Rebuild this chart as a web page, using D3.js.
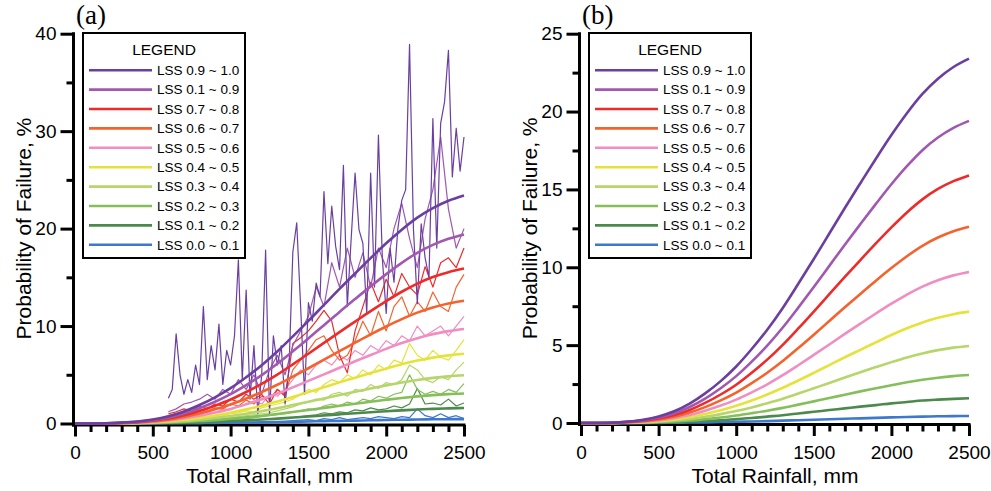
<!DOCTYPE html>
<html><head>
<meta charset="utf-8">
<title>Probability of Failure vs Total Rainfall</title>
<script src="https://d3js.org/d3.v7.min.js"></script>
<style>
body { margin: 0; background: #fff; }
svg { font-family: Arial, "Liberation Sans", sans-serif; }
.axis path, .axis line { stroke: #000; stroke-width: 3; }
.axis text { font-size: 19px; fill: #000; font-family: Arial, "Liberation Sans", sans-serif; }
.title { font-size: 21px; }
.panel { font-family: "Times New Roman", "Liberation Serif", serif; font-size: 27px; }
.legend-title { font-size: 15.5px; }
.legend-item { font-size: 13.5px; }
</style>
</head>
<body>
<svg id="chart" width="991" height="491"></svg>
<script>
// ---- data ----
const lssLabels = ["LSS 0.9 ~ 1.0", "LSS 0.1 ~ 0.9", "LSS 0.7 ~ 0.8", "LSS 0.6 ~ 0.7", "LSS 0.5 ~ 0.6",
                   "LSS 0.4 ~ 0.5", "LSS 0.3 ~ 0.4", "LSS 0.2 ~ 0.3", "LSS 0.1 ~ 0.2", "LSS 0.0 ~ 0.1"];
const lssColors = ["#6b3fa0", "#a058b0", "#ee2b2b", "#f4632d", "#f08dc1",
                   "#e5e33b", "#b6d56a", "#85bf5a", "#4c8a4c", "#3d78cf"];

const xMajor = [0, 500, 1000, 1500, 2000, 2500];
const xMinor = [100, 200, 300, 400, 600, 700, 800, 900, 1100, 1200, 1300, 1400,
                1600, 1700, 1800, 1900, 2100, 2200, 2300, 2400];

// fitted curves, every 100 mm
const rainSmooth = [0, 100, 200, 300, 400, 500, 600, 700, 800, 900, 1000, 1100, 1200,
                    1300, 1400, 1500, 1600, 1700, 1800, 1900, 2000, 2100, 2200, 2300, 2400, 2500];
const fit0910 = [0, 0, 0.02, 0.09, 0.21, 0.42, 0.75, 1.24, 1.90, 2.69, 3.63, 4.75, 5.99, 7.39, 8.94, 10.53, 12.17, 13.81, 15.40, 16.97, 18.49, 19.89, 21.13, 22.11, 22.86, 23.4];
const fit0109 = [0, 0, 0.02, 0.08, 0.17, 0.35, 0.62, 1.03, 1.57, 2.23, 3.01, 3.94, 4.97, 6.13, 7.41, 8.73, 10.09, 11.45, 12.77, 14.07, 15.33, 16.49, 17.52, 18.33, 18.95, 19.4];
const fit0708 = [0, 0, 0.02, 0.06, 0.14, 0.29, 0.51, 0.84, 1.29, 1.83, 2.46, 3.23, 4.07, 5.02, 6.07, 7.16, 8.27, 9.38, 10.46, 11.53, 12.56, 13.52, 14.36, 15.03, 15.53, 15.9];
const fit0607 = [0, 0, 0.01, 0.05, 0.11, 0.23, 0.40, 0.67, 1.02, 1.45, 1.95, 2.56, 3.23, 3.98, 4.81, 5.67, 6.55, 7.43, 8.29, 9.14, 9.95, 10.71, 11.38, 11.91, 12.31, 12.6];
const fit0506 = [0, 0, 0.01, 0.04, 0.09, 0.17, 0.31, 0.51, 0.79, 1.12, 1.50, 1.97, 2.48, 3.07, 3.71, 4.37, 5.04, 5.72, 6.38, 7.03, 7.66, 8.25, 8.76, 9.17, 9.48, 9.7];
const fit0405 = [0, 0, 0.01, 0.03, 0.06, 0.13, 0.23, 0.38, 0.58, 0.82, 1.11, 1.45, 1.83, 2.26, 2.73, 3.22, 3.72, 4.22, 4.70, 5.18, 5.65, 6.08, 6.46, 6.76, 6.99, 7.15];
const fit0304 = [0, 0, 0, 0.02, 0.04, 0.09, 0.16, 0.26, 0.40, 0.57, 0.77, 1.00, 1.27, 1.56, 1.89, 2.23, 2.57, 2.92, 3.26, 3.59, 3.91, 4.21, 4.47, 4.68, 4.84, 4.95];
const fit0203 = [0, 0, 0, 0.01, 0.03, 0.06, 0.10, 0.16, 0.25, 0.35, 0.48, 0.63, 0.79, 0.97, 1.18, 1.39, 1.60, 1.82, 2.03, 2.23, 2.43, 2.62, 2.78, 2.91, 3.01, 3.08];
const fit0102 = [0, 0, 0, 0.01, 0.01, 0.03, 0.05, 0.08, 0.13, 0.18, 0.25, 0.32, 0.41, 0.50, 0.61, 0.72, 0.83, 0.94, 1.05, 1.15, 1.26, 1.35, 1.44, 1.50, 1.55, 1.59];
const fit0001 = [0, 0, 0, 0, 0.01, 0.01, 0.02, 0.03, 0.04, 0.06, 0.08, 0.10, 0.12, 0.15, 0.18, 0.21, 0.24, 0.27, 0.30, 0.33, 0.36, 0.39, 0.41, 0.43, 0.44, 0.45];

// observed rates (panel a)
const rainFine = [600, 625, 650, 675, 700, 725, 750, 775, 800, 825, 850, 875, 900, 925, 950, 975,
                  1000, 1025, 1050, 1075, 1100, 1125, 1150, 1175, 1200, 1225, 1250, 1275, 1300, 1325, 1350, 1375,
                  1400, 1425, 1450, 1475, 1500, 1525, 1550, 1575, 1600, 1625, 1650, 1675, 1700, 1725, 1750, 1775,
                  1800, 1825, 1850, 1875, 1900, 1925, 1950, 1975, 2000, 2025, 2050, 2075, 2100, 2125, 2150, 2175,
                  2200, 2225, 2250, 2275, 2300, 2325, 2350, 2375, 2400, 2425, 2450, 2475, 2500];
const obs0910 = [2.6, 3.5, 9.2, 5.0, 3.0, 4.5, 3.2, 6.0, 4.0, 12.0, 4.5, 8.0, 5.5, 10.2, 4.0, 7.5,
                 6.0, 9.0, 16.8, 4.5, 13.7, 2.5, 8.0, 1.0, 5.0, 17.8, 1.0, 9.0, 6.0, 8.0, 2.0, 5.5,
                 17.6, 20.6, 12.0, 3.0, 12.4, 10.5, 14.4, 13.0, 23.8, 16.4, 22.3, 18.2, 15.8, 26.5, 12.0, 19.0,
                 25.7, 19.9, 18.5, 11.3, 25.7, 14.0, 29.6, 17.0, 11.3, 18.0, 14.5, 20.0, 22.9, 24.0, 38.9, 20.0,
                 12.3, 20.5, 17.0, 15.0, 31.3, 18.0, 30.8, 33.0, 38.3, 25.3, 30.3, 25.9, 29.4];

const rainObs = [600, 650, 700, 750, 800, 850, 900, 950, 1000, 1050, 1100, 1150, 1200, 1250, 1300, 1350,
                 1400, 1450, 1500, 1550, 1600, 1650, 1700, 1750, 1800, 1850, 1900, 1950, 2000, 2050, 2100, 2150,
                 2200, 2250, 2300, 2350, 2400, 2450, 2500];
const obs0109 = [1.2, 1.5, 2.0, 2.2, 2.5, 3.0, 2.5, 3.5, 3.0, 4.5, 3.5, 5.0, 3.0, 5.5, 7.0, 5.0,
                 8.0, 9.5, 11.0, 14.0, 12.0, 16.5, 14.0, 18.0, 15.0, 17.5, 14.0, 18.0, 16.0, 20.0, 22.6, 19.0,
                 16.0, 21.0, 24.0, 29.4, 22.0, 18.0, 20.0];
const obs0708 = [1.0, 1.2, 1.5, 1.3, 1.8, 1.5, 2.0, 1.8, 2.5, 2.2, 3.0, 2.5, 3.0, 2.0, 3.5, 2.8,
                 8.2, 8.8, 9.5, 10.5, 11.6, 10.5, 7.0, 5.2, 9.5, 12.0, 14.5, 12.5, 14.8, 13.0, 15.4, 14.0,
                 13.2, 16.1, 14.0, 16.5, 17.0, 16.0, 18.0];
const obs0607 = [0.8, 1.0, 0.9, 1.2, 1.4, 1.2, 1.6, 1.5, 2.0, 1.8, 2.4, 2.0, 2.8, 2.5, 3.5, 3.0,
                 5.5, 6.5, 7.5, 8.6, 9.0, 7.5, 6.5, 7.0, 8.5, 10.5, 9.0, 11.5, 9.5, 12.0, 13.0, 11.0,
                 12.5, 11.5, 13.5, 12.0, 11.5, 14.0, 15.3];
const obs0506 = [0.6, 0.8, 0.7, 1.0, 1.0, 1.2, 1.1, 1.5, 1.4, 1.8, 2.0, 2.3, 2.0, 3.0, 2.8, 3.5,
                 4.5, 5.5, 5.0, 6.0, 6.5, 6.0, 7.0, 6.5, 7.5, 7.0, 8.0, 7.5, 8.5, 8.0, 9.0, 8.5,
                 10.0, 9.0, 9.5, 10.0, 9.0, 10.0, 11.0];
const obs0405 = [0.3, 0.4, 0.4, 0.5, 0.5, 0.6, 0.7, 0.8, 1.0, 1.1, 1.3, 1.2, 1.6, 1.8, 2.0, 2.2,
                 2.5, 3.0, 3.5, 3.2, 4.0, 4.5, 4.2, 5.0, 4.6, 5.5, 5.0, 6.0, 5.5, 6.5, 6.2, 8.2,
                 7.0, 6.5, 7.5, 6.8, 6.5, 7.5, 8.6];
const obs0304 = [0.2, 0.2, 0.3, 0.3, 0.35, 0.4, 0.4, 0.5, 0.6, 0.7, 0.8, 0.9, 1.0, 1.1, 1.3, 1.5,
                 1.7, 2.0, 2.2, 2.5, 2.4, 3.0, 3.2, 2.8, 3.5, 3.3, 4.0, 3.6, 4.2, 4.0, 4.5, 6.0,
                 5.5, 4.5, 4.2, 4.8, 4.5, 5.5, 6.3];
const obs0203 = [0.1, 0.1, 0.15, 0.2, 0.2, 0.25, 0.3, 0.35, 0.4, 0.45, 0.5, 0.6, 0.7, 0.8, 0.9, 1.0,
                 1.2, 1.3, 1.5, 1.4, 1.8, 2.0, 1.8, 2.2, 2.0, 2.5, 2.3, 2.8, 2.6, 3.0, 3.2, 5.0,
                 3.5, 3.0, 3.3, 3.0, 3.5, 3.2, 4.1];
const obs0102 = [0.05, 0.05, 0.1, 0.1, 0.1, 0.15, 0.15, 0.2, 0.2, 0.25, 0.3, 0.35, 0.4, 0.45, 0.5, 0.55,
                 0.6, 0.7, 0.8, 0.9, 1.1, 1.0, 1.2, 1.1, 1.4, 1.3, 1.6, 1.4, 1.5, 1.8, 1.6, 2.0,
                 3.6, 2.0, 2.1, 1.9, 2.5, 1.8, 2.1];
const obs0001 = [0, 0, 0, 0.02, 0.03, 0.05, 0.05, 0.08, 0.08, 0.1, 0.1, 0.12, 0.15, 0.15, 0.2, 0.2,
                 0.3, 0.35, 0.4, 0.3, 0.5, 0.4, 0.6, 0.4, 0.5, 0.6, 0.5, 0.7, 0.6, 0.5, 0.7, 0.6,
                 1.5, 0.8, 0.6, 1.0, 0.6, 0.8, 0.5];

const fits = [fit0910, fit0109, fit0708, fit0607, fit0506, fit0405, fit0304, fit0203, fit0102, fit0001];
const observed = [
    {x: rainFine, y: obs0910}, {x: rainObs, y: obs0109}, {x: rainObs, y: obs0708}, {x: rainObs, y: obs0607},
    {x: rainObs, y: obs0506}, {x: rainObs, y: obs0405}, {x: rainObs, y: obs0304}, {x: rainObs, y: obs0203},
    {x: rainObs, y: obs0102}, {x: rainObs, y: obs0001}
];

// ---- layout ----
const svg = d3.select("#chart");
const panels = [
    {label: "(a)", left: 75, right: 464, top: 33.7, bottom: 423.5, yMax: 40,
     yMajor: [0, 10, 20, 30, 40], yMinor: [5, 15, 25, 35], showObs: true},
    {label: "(b)", left: 581, right: 969, top: 33.7, bottom: 423, yMax: 25,
     yMajor: [0, 5, 10, 15, 20, 25], yMinor: [2.5, 7.5, 12.5, 17.5, 22.5], showObs: false}
];

panels.forEach(p => {
    const x = d3.scaleLinear().domain([0, 2500]).range([p.left, p.right]);
    const y = d3.scaleLinear().domain([0, p.yMax]).range([p.bottom, p.top]);
    const g = svg.append("g");

    //x axis, major + minor ticks
    const xAxis = g.append("g").attr("class", "axis")
        .attr("transform", "translate(0," + (p.bottom + 1.5) + ")")
        .call(d3.axisBottom(x).tickValues(xMajor).tickFormat(d3.format("d"))
            .tickSize(11.5).tickSizeOuter(0).tickPadding(9.5));
    xAxis.select(".domain").attr("d", "M" + (p.left - 3) + ",0H" + (p.right + 1.5));
    g.append("g").attr("class", "axis")
        .attr("transform", "translate(0," + (p.bottom + 1.5) + ")")
        .call(d3.axisBottom(x).tickValues(xMinor).tickSize(7).tickFormat(""))
        .select(".domain").remove();

    //y axis
    const yAxis = g.append("g").attr("class", "axis")
        .attr("transform", "translate(" + (p.left - 1.5) + ",0)")
        .call(d3.axisLeft(y).tickValues(p.yMajor).tickFormat(d3.format("d"))
            .tickSize(13).tickSizeOuter(0).tickPadding(4));
    yAxis.select(".domain").attr("d", "M0," + (p.top - 1.5) + "V" + (p.bottom + 3));
    g.append("g").attr("class", "axis")
        .attr("transform", "translate(" + (p.left - 1.5) + ",0)")
        .call(d3.axisLeft(y).tickValues(p.yMinor).tickSize(7).tickFormat(""))
        .select(".domain").remove();

    //titles
    g.append("text").attr("class", "title")
        .attr("x", (p.left + p.right) / 2).attr("y", 483)
        .attr("text-anchor", "middle").text("Total Rainfall, mm");
    g.append("text").attr("class", "title")
        .attr("transform", "translate(" + (p.left - 44) + "," + ((p.top + p.bottom) / 2) + ") rotate(-90)")
        .attr("text-anchor", "middle").text("Probability of Failure, %");
    g.append("text").attr("class", "panel")
        .attr("x", p.left + 1).attr("y", 24).text(p.label);

    //observed rates (thin)
    if (p.showObs) {
        for (let i = observed.length - 1; i >= 0; i--) {
            const o = observed[i];
            const line = d3.line().x((d, k) => x(o.x[k])).y(d => y(d));
            g.append("path").datum(o.y)
                .attr("fill", "none").attr("stroke", lssColors[i])
                .attr("stroke-width", 1.2).attr("stroke-linejoin", "round")
                .attr("d", line);
        }
    }

    //fitted curves (thick)
    const fitLine = d3.line().x((d, k) => x(rainSmooth[k])).y(d => y(d)).curve(d3.curveMonotoneX);
    for (let i = fits.length - 1; i >= 0; i--) {
        g.append("path").datum(fits[i])
            .attr("fill", "none").attr("stroke", lssColors[i])
            .attr("stroke-width", 2.6)
            .attr("d", fitLine);
    }

    //legend
    const lx = p.left + 8, ly = 33, lw = 162, lh = 225;
    const leg = g.append("g");
    leg.append("rect").attr("x", lx).attr("y", ly).attr("width", lw).attr("height", lh)
        .attr("fill", "#fff").attr("stroke", "#000").attr("stroke-width", 2);
    leg.append("text").attr("class", "legend-title")
        .attr("x", lx + lw / 2).attr("y", ly + 21.5).attr("text-anchor", "middle").text("LEGEND");
    const rowY = d3.scaleBand().domain(lssLabels).range([ly + 27.5, ly + 27.5 + 19.4 * 10]);
    lssLabels.forEach((lab, i) => {
        const yy = rowY(lab) + rowY.bandwidth() / 2;
        leg.append("line").attr("x1", lx + 6).attr("x2", lx + 69).attr("y1", yy).attr("y2", yy)
            .attr("stroke", lssColors[i]).attr("stroke-width", 2.6);
        leg.append("text").attr("class", "legend-item")
            .attr("x", lx + 74).attr("y", yy).attr("dy", "0.36em").text(lab);
    });
});
</script>
</body>
</html>
